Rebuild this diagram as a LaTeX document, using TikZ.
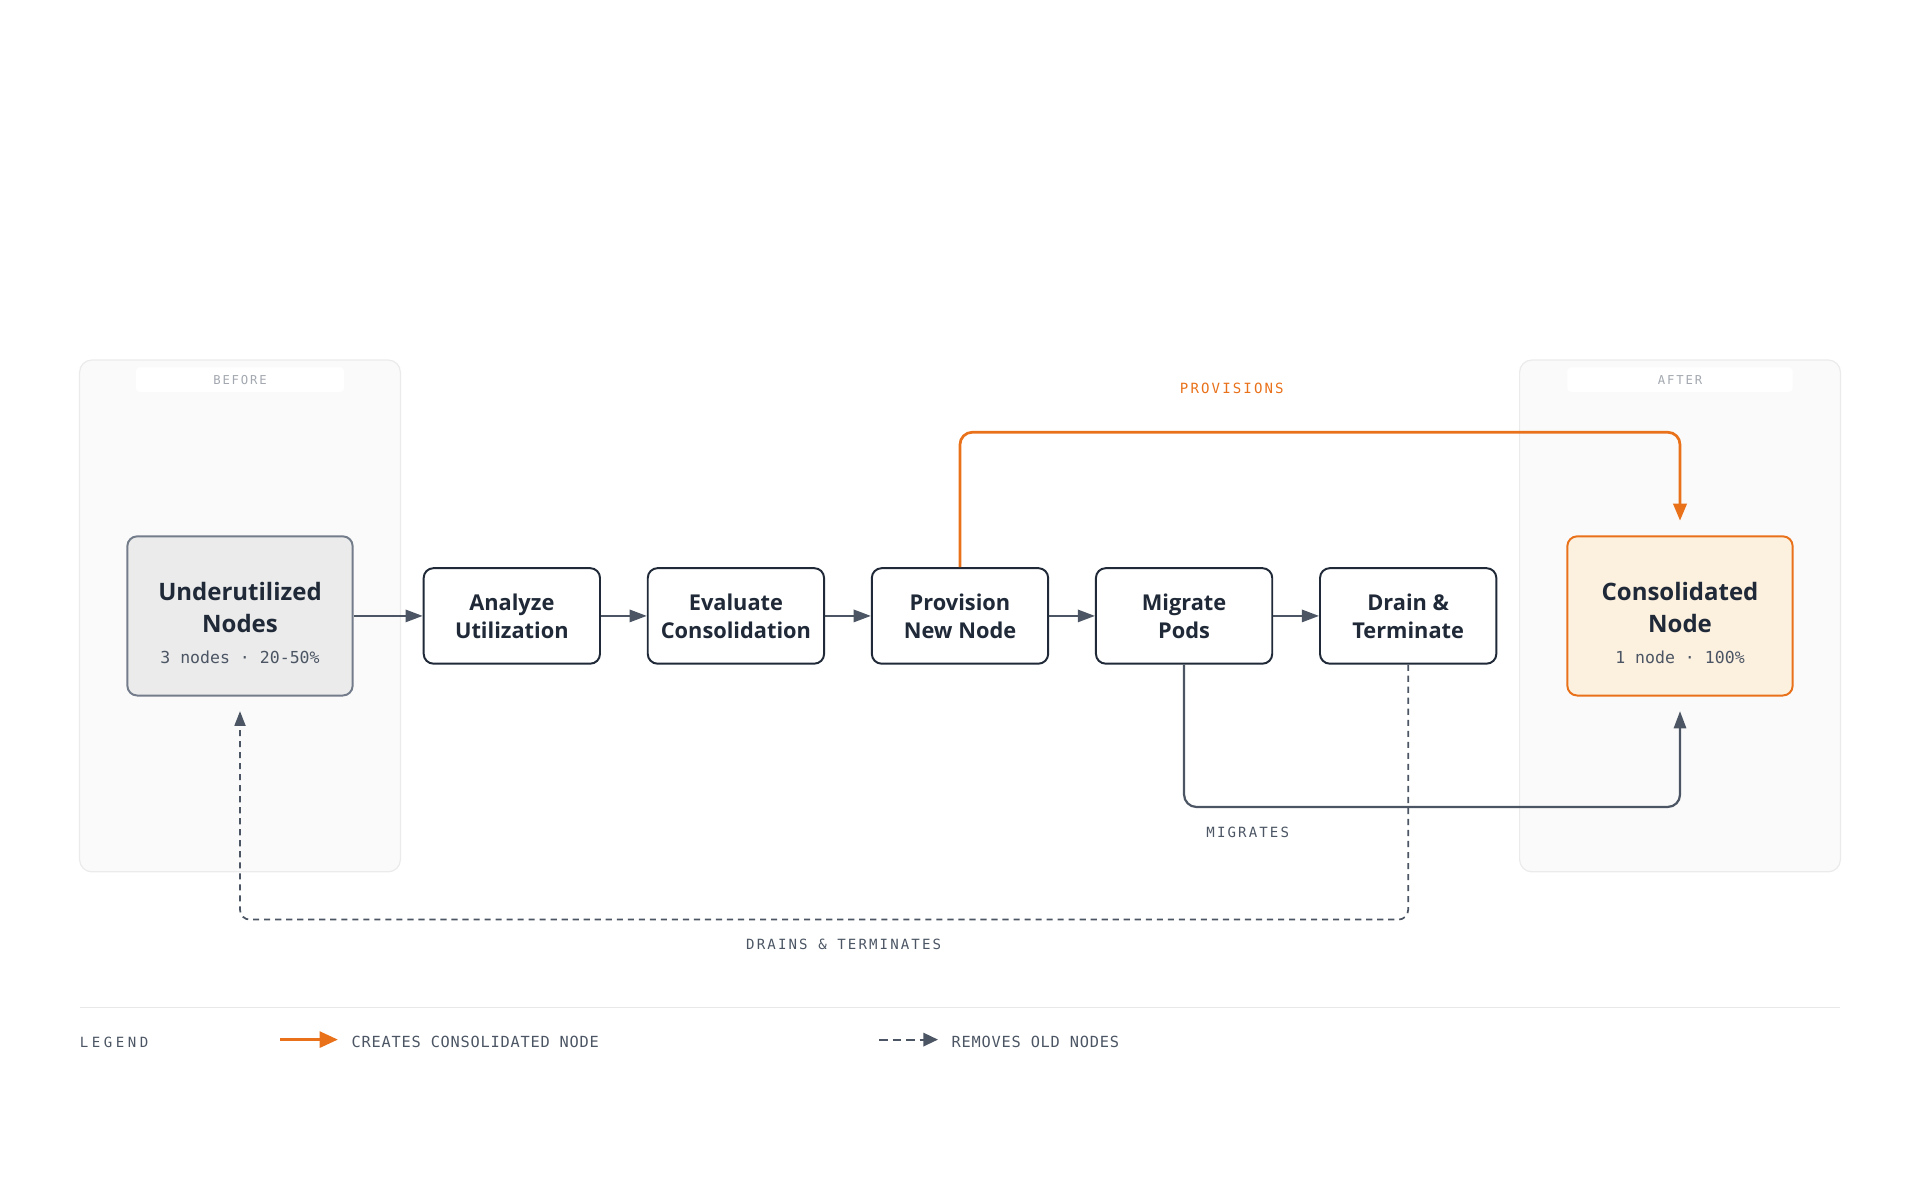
\documentclass[tikz,border=0pt]{standalone}
\usepackage{fontspec}
\setmainfont{Open Sans}
\newcommand\boxfont{\bfseries}
\newfontfamily\subfont{DejaVu Sans Mono}
\newfontfamily\tagfont{DejaVu Sans Mono}[LetterSpace=15]
\newfontfamily\legendfont{DejaVu Sans Mono}[LetterSpace=25]
\newfontfamily\keyfont{DejaVu Sans Mono}[LetterSpace=5]
\usetikzlibrary{arrows.meta}
\definecolor{ink}{HTML}{1F2937}
\definecolor{flowgray}{HTML}{4B5563}
\definecolor{tagorange}{HTML}{E8711A}
\definecolor{warmfill}{HTML}{FCF0DF}
\definecolor{oldfill}{HTML}{EBEBEB}
\definecolor{oldline}{HTML}{737C8A}
\definecolor{panelfill}{HTML}{FAFAFA}
\definecolor{panelline}{HTML}{EBEBEB}
\definecolor{faint}{HTML}{A3A8B0}
\definecolor{rule}{HTML}{E8E8E8}

\begin{document}
\begin{tikzpicture}[x=1pt, y=-1pt,
  panel/.style={draw=panelline, line width=1pt, fill=panelfill, rounded corners=10pt, minimum width=262pt, minimum height=418pt, inner sep=0pt},
  band/.style={fill=white, rounded corners=3pt, minimum height=20pt, inner sep=0pt, text=faint, font=\tagfont\fontsize{10}{12}\selectfont},
  stage/.style={draw=ink, line width=1.6pt, fill=white, rounded corners=8pt, minimum width=144pt, minimum height=78pt, inner sep=0pt, align=center, text=ink, font=\boxfont\fontsize{17.8}{23}\selectfont},
  bigbox/.style={line width=1.6pt, rounded corners=8pt, minimum width=184pt, minimum height=130pt, inner sep=0pt},
  boxtitle/.style={align=center, text=ink, inner sep=0pt, font=\boxfont\fontsize{19.6}{26}\selectfont},
  boxsub/.style={text=flowgray, inner sep=0pt, font=\subfont\fontsize{13.5}{16}\selectfont},
  flow/.style={draw=flowgray, line width=1.8pt, -{Triangle[length=14pt, width=10pt]}},
  provline/.style={draw=tagorange, line width=2.2pt, rounded corners=10pt, -{Triangle[length=14pt, width=11pt]}},
  dropline/.style={draw=flowgray, line width=1.4pt, dash pattern=on 5pt off 4pt, rounded corners=8pt, -{Triangle[length=12pt, width=9pt]}},
  tag/.style={inner sep=0pt, font=\tagfont\fontsize{11.5}{14}\selectfont},
  keytext/.style={anchor=west, inner sep=0pt, text=flowgray, font=\keyfont\fontsize{12.5}{15}\selectfont}]

  \useasboundingbox (0,0) rectangle (1568,980);

  % before / after panels
  \node[panel] (beforepanel) at (196,503) {};
  \node[panel] (afterpanel) at (1372,503) {};
  \node[band, minimum width=170pt] (beforeband) at (196,310) {BEFORE};
  \node[band, minimum width=184pt] (afterband) at (1372,310) {AFTER};

  % nodes
  \node[bigbox, draw=oldline, fill=oldfill] (underutilized) at (196,503) {};
  \node[boxtitle] (undertitle) at (196,496) {Underutilized\\Nodes};
  \node[boxsub] (undersub) at (196,537) {3 nodes · 20-50\%};

  \node[stage] (analyze) at (418,503) {Analyze\\Utilization};
  \node[stage] (evaluate) at (601,503) {Evaluate\\Consolidation};
  \node[stage] (provision) at (784,503) {Provision\\New Node};
  \node[stage] (migrate) at (967,503) {Migrate\\Pods};
  \node[stage] (drain) at (1150,503) {Drain \&\\Terminate};

  \node[bigbox, draw=tagorange, fill=warmfill] (consolidated) at (1372,503) {};
  \node[boxtitle] (constitle) at (1372,496) {Consolidated\\Node};
  \node[boxsub] (conssub) at (1372,537) {1 node · 100\%};

  % main flow
  \draw[flow] (underutilized) -- (analyze);
  \draw[flow] (analyze) -- (evaluate);
  \draw[flow] (evaluate) -- (provision);
  \draw[flow] (provision) -- (migrate);
  \draw[flow] (migrate) -- (drain);

  % side routes
  \coordinate (provhigh) at (1006,353);
  \coordinate (miglow) at (1019,659);
  \coordinate (drainlow) at (689,751);
  \draw[provline, shorten >=12pt] (provision.north) |- (provhigh) -| (consolidated.north);
  \draw[flow, rounded corners=10pt, shorten >=12pt] (migrate.south) |- (miglow) -| (consolidated.south);
  \draw[dropline, shorten >=12pt] (drain.south) |- (drainlow) -| (underutilized.south);

  \node[tag, text=tagorange] (provtag) at (1006,317) {PROVISIONS};
  \node[tag, text=flowgray] (migtag) at (1019,680) {MIGRATES};
  \node[tag, text=flowgray] (draintag) at (689,771) {DRAINS \& TERMINATES};

  % legend
  \coordinate (rulestart) at (65,823);
  \coordinate (ruleend) at (1503,823);
  \draw[rule, line width=1pt] (rulestart) -- (ruleend);
  \node[anchor=west, inner sep=0pt, text=flowgray, font=\legendfont\fontsize{11.5}{14}\selectfont] (legend) at (65,851) {LEGEND};
  \coordinate (keyonea) at (229,849);
  \coordinate (keyoneb) at (276,849);
  \draw[tagorange, line width=2.6pt, -{Triangle[length=15pt, width=13pt]}] (keyonea) -- (keyoneb);
  \node[keytext] (keyone) at (287,851) {CREATES CONSOLIDATED NODE};
  \coordinate (keytwoa) at (718,849);
  \coordinate (keytwob) at (766,849);
  \draw[flowgray, line width=1.6pt, dash pattern=on 7pt off 4pt, -{Triangle[length=12pt, width=11pt]}] (keytwoa) -- (keytwob);
  \node[keytext] (keytwo) at (777,851) {REMOVES OLD NODES};
\end{tikzpicture}
\end{document}
